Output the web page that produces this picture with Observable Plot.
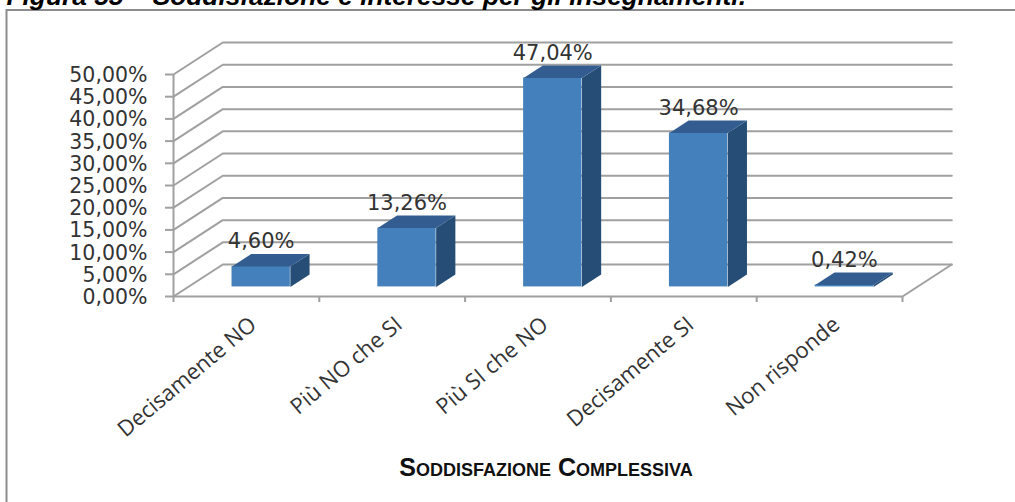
<!DOCTYPE html>
<html><head><meta charset="utf-8">
<script src="https://cdn.jsdelivr.net/npm/d3@7"></script>
<script src="https://cdn.jsdelivr.net/npm/@observablehq/plot@0.6"></script>
<style>html,body{margin:0;padding:0;background:#fff;overflow:hidden}svg{display:block}</style>
</head><body><div id="c"></div><script>
const categories = ["Decisamente NO","Più NO che SI","Più SI che NO","Decisamente SI","Non risponde"];
const values = [4.60,13.26,47.04,34.68,0.42];
const yTicks = [0,5,10,15,20,25,30,35,40,45,50];
const xEdges = [0,1,2,3,4,5];
const titleText = "Figura 55 – Soddisfazione e interesse per gli insegnamenti.";
const axisTitle = "Soddisfazione Complessiva";

// oblique depth, in data units: one full depth of the chart's box
const depthX = 0.338, depthY = 7.2;
const barFrom = 0.3, barTo = 0.69, barWidth = 0.4;
const fmt = v => v.toFixed(2).replace(".", ",") + "%";
const GRID = "#a0a0a0";

const pt = (id, x, y, t) => ({id, x: x + depthX*t, y: y + depthY*t});
const sideFaces = [], topFaces = [], wall = [];
categories.forEach((c,i) => {
  const v = values[i], x0 = i + 0.3, x1 = x0 + barWidth;
  sideFaces.push(pt(i,x1,0,barFrom),pt(i,x1,0,barTo),pt(i,x1,v,barTo),pt(i,x1,v,barFrom));
  topFaces.push(pt(i,x0,v,barFrom),pt(i,x1,v,barFrom),pt(i,x1,v,barTo),pt(i,x0,v,barTo));
});
yTicks.forEach(v => wall.push(pt(v,0,v,0),pt(v,0,v,1),pt(v,5,v,1)));
const floorRight = [pt(0,5,0,0),pt(0,5,0,1)];
const front = categories.map((c,i)=>({x1:i+0.3+depthX*barFrom,x2:i+0.3+barWidth+depthX*barFrom,y1:depthY*barFrom,y2:values[i]+depthY*barFrom}));
const labels = categories.map((c,i)=>({x:i+0.5+depthX*barFrom,y:values[i]+depthY*barTo,t:fmt(values[i])}));

const plot = Plot.plot({
  width:1015,height:502,
  marginLeft:173,marginRight:113,marginTop:74,marginBottom:206,
  style:{background:"#fff",fontFamily:"DejaVu Sans",overflow:"hidden"},
  x:{type:"linear",domain:[0,5],axis:null},
  y:{type:"linear",domain:[0,50],axis:null},
  marks:[
    () => { // border of the embedded picture
      const p=document.createElementNS("http://www.w3.org/2000/svg","path");
      p.setAttribute("d","M6.5 502V10H1015");p.setAttribute("fill","none");p.setAttribute("stroke","#8c8c8c");p.setAttribute("stroke-width","2");
      return p;
    },
    Plot.line(wall,{x:"x",y:"y",z:"id",stroke:GRID,strokeWidth:2}),
    Plot.line(floorRight,{x:"x",y:"y",stroke:GRID,strokeWidth:2}),
    Plot.ruleX([0],{y1:0,y2:50,stroke:GRID,strokeWidth:2}),
    Plot.ruleY([0],{x1:0,x2:5,stroke:GRID,strokeWidth:2}),
    Plot.axisY({ticks:yTicks,tickFormat:()=>"",tickSize:8,stroke:GRID,strokeWidth:2,label:null,anchor:"left"}),
    Plot.axisY({ticks:yTicks,tickFormat:fmt,tickSize:0,tickPadding:26,dy:1,color:"#333",fontSize:20.5,fontFamily:"DejaVu Sans",label:null,anchor:"left"}),
    Plot.axisX({ticks:xEdges,tickFormat:()=>"",tickSize:6,stroke:GRID,strokeWidth:2,label:null,anchor:"bottom"}),
    Plot.axisX({ticks:categories.map((c,i)=>i+0.5),tickFormat:v=>categories[v-0.5],tickSize:0,tickPadding:18,dx:7,dy:7,tickRotate:-40,fontSize:22,fontFamily:"Open Sans",color:"#333",label:null,anchor:"bottom"}),
    Plot.rect(front,{x1:"x1",x2:"x2",y1:"y1",y2:"y2",fill:"#4480bb"}),
    Plot.line(sideFaces,{x:"x",y:"y",z:"id",fill:"#264d76",stroke:null,curve:"linear-closed"}),
    Plot.line(topFaces,{x:"x",y:"y",z:"id",fill:"#335d90",stroke:null,curve:"linear-closed"}),
    Plot.text(labels,{x:"x",y:"y",text:"t",dy:-12.5,fontSize:21,fontFamily:"DejaVu Sans",fill:"#333"}),
    Plot.text([axisTitle],{frameAnchor:"bottom",lineAnchor:"middle",dx:8,dy:171,fontSize:25,fontWeight:700,fontVariant:"small-caps",fontFamily:"Liberation Sans",fill:"#111"}),
    Plot.text([titleText],{frameAnchor:"top-left",dx:-167,dy:-88,fontSize:26.3,fontStyle:"italic",fontWeight:700,fontFamily:"Liberation Sans",fill:"#000"})
  ]
});
document.getElementById("c").appendChild(plot);
</script></body></html>
